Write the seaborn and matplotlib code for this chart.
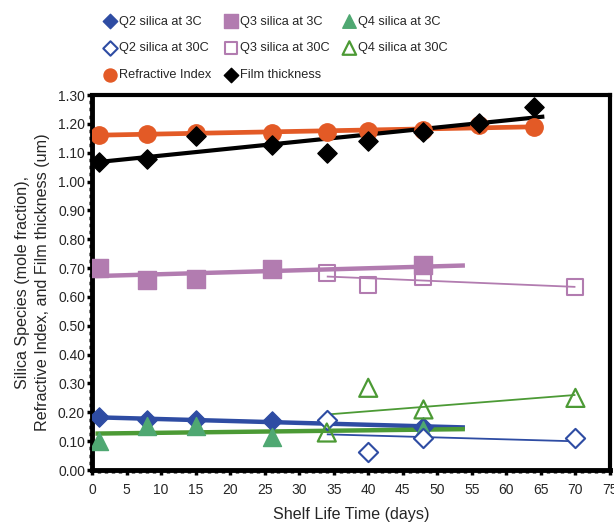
import numpy as np
import pandas as pd
import seaborn as sns
from matplotlib import pyplot as plt
from matplotlib.ticker import MultipleLocator, FormatStrFormatter

# ---------------- data ----------------
days_3c = [1, 8, 15, 26, 48]
q2_3c = [0.184, 0.174, 0.173, 0.170, 0.150]
q3_3c = [0.700, 0.658, 0.662, 0.697, 0.710]
q4_3c = [0.100, 0.152, 0.152, 0.115, 0.140]

days_30c = [34, 40, 48, 70]
q2_30c = [0.173, 0.062, 0.112, 0.110]
q3_30c = [0.683, 0.641, 0.669, 0.634]
q4_30c = [0.130, 0.285, 0.210, 0.250]

days_all = [1, 8, 15, 26, 34, 40, 48, 56, 64]
refr_index = [1.163, 1.165, 1.168, 1.170, 1.172, 1.176, 1.180, 1.195, 1.188]
film_thick = [1.067, 1.077, 1.158, 1.128, 1.099, 1.140, 1.172, 1.203, 1.258]

# trend line x-ranges (Excel style forecast)
range_3c = (0.5, 54)
range_30c = (34, 70)
range_ri = (1, 64)
range_ft = (0.5, 65.5)

sns.set_theme(style="ticks")
plt.rcParams["font.family"] = ["Liberation Sans", "DejaVu Sans"]

fig = plt.figure(figsize=(6.14, 5.22), dpi=100)
ax = fig.add_axes([0.1498, 0.0996, 0.8436, 0.7184])


def trend(x, y, xr, color, lw):
    k, b = np.polyfit(x, y, 1)
    xs = np.array(xr)
    line = pd.DataFrame({"x": xs, "y": k * xs + b})
    sns.lineplot(data=line, x="x", y="y", ax=ax, color=color, lw=lw,
                 legend=False, zorder=3, solid_capstyle="butt")


blue = "#2E4CA3"
purple = "#B27CB0"
green_fill = "#4FA872"
green_line = "#4C9A35"
orange = "#E35A26"

# trend lines
trend(days_30c, q2_30c, range_30c, blue, 1.3)
trend(days_30c, q3_30c, range_30c, purple, 1.3)
trend(days_30c, q4_30c, range_30c, green_line, 1.3)
trend(days_3c, q3_3c, range_3c, purple, 3.2)
trend(days_3c, q2_3c, range_3c, blue, 3.2)
trend(days_3c, q4_3c, range_3c, green_line, 3.2)
trend(days_all, refr_index, range_ri, orange, 3.4)
trend(days_all, film_thick, range_ft, "black", 3.0)

ms = 120
handles = {}
handles["q2_3c"] = ax.scatter(days_3c, q2_3c, marker="D", s=ms * 0.8, color=blue,
                              edgecolor=blue, label="Q2 silica at 3C", zorder=4)
handles["q3_3c"] = ax.scatter(days_3c, q3_3c, marker="s", s=ms * 1.3, color=purple,
                              edgecolor=purple, label="Q3 silica at 3C", zorder=4)
handles["q4_3c"] = ax.scatter(days_3c, q4_3c, marker="^", s=ms * 1.4, color=green_fill,
                              edgecolor=green_fill, label="Q4 silica at 3C", zorder=4)
handles["q2_30c"] = ax.scatter(days_30c, q2_30c, marker="D", s=ms * 0.8, facecolor="white",
                               edgecolor=blue, lw=1.5, label="Q2 silica at 30C", zorder=4)
handles["q3_30c"] = ax.scatter(days_30c, q3_30c, marker="s", s=ms * 1.1, facecolor="none",
                               edgecolor=purple, lw=1.5, label="Q3 silica at 30C", zorder=4)
handles["q4_30c"] = ax.scatter(days_30c, q4_30c, marker="^", s=ms * 1.4, facecolor="none",
                               edgecolor=green_line, lw=1.6, label="Q4 silica at 30C", zorder=4)
handles["ri"] = ax.scatter(days_all, refr_index, marker="o", s=ms * 1.3, color=orange,
                           edgecolor=orange, label="Refractive Index", zorder=4)
handles["ft"] = ax.scatter(days_all, film_thick, marker="D", s=ms * 0.8, color="black",
                           edgecolor="black", label="Film thickness", zorder=5)

ax.set_xlim(0, 75)
ax.set_ylim(0, 1.30)
ax.xaxis.set_major_locator(MultipleLocator(5))
ax.xaxis.set_minor_locator(MultipleLocator(1))
ax.yaxis.set_major_locator(MultipleLocator(0.1))
ax.yaxis.set_minor_locator(MultipleLocator(0.025))
ax.yaxis.set_major_formatter(FormatStrFormatter("%.2f"))
ax.tick_params(which="major", length=3.5, width=2.5, labelsize=10, color="black")
ax.tick_params(axis="y", which="major", pad=1.5)
ax.tick_params(axis="x", which="major", pad=6)
ax.tick_params(which="minor", length=2.5, width=2.5, color="black")
for name, sp in ax.spines.items():
    sp.set_color("black")
    sp.set_linewidth(3.5 if name in ("left", "bottom") else 3)

ax.set_xlabel("Shelf Life Time (days)", fontsize=11.6, labelpad=7)
ax.set_ylabel("Silica Species (mole fraction),\nRefractive Index, and Film thickness (um)",
              fontsize=11.6, labelpad=6, linespacing=1.42)

order = ["q2_3c", "q2_30c", "ri", "q3_3c", "q3_30c", "ft", "q4_3c", "q4_30c"]
fig.legend([handles[k] for k in order], [handles[k].get_label() for k in order],
           loc="upper left", bbox_to_anchor=(0.150, 0.992), ncol=3, frameon=False,
           fontsize=9.2, handletextpad=0.2, handlelength=1.0, columnspacing=1.05,
           labelspacing=1.15, markerscale=0.75)

fig.savefig("out.png", dpi=100)
